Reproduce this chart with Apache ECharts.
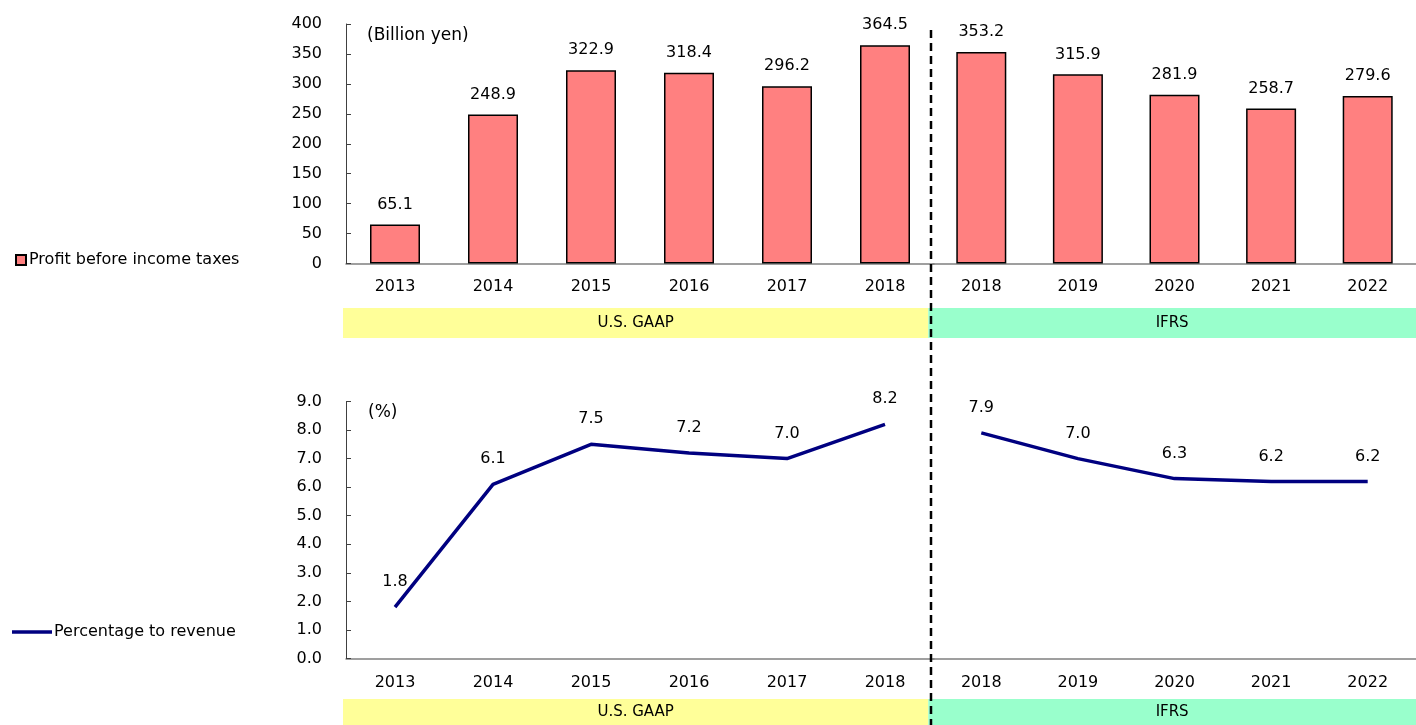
<!DOCTYPE html>
<html>
<head>
<meta charset="utf-8">
<style>
  html, body { margin: 0; padding: 0; background: #fff; }
  #chart { width: 1416px; height: 725px; }
</style>
<script src="https://cdn.jsdelivr.net/npm/echarts@6/dist/echarts.min.js"></script>
</head>
<body>
<div id="chart"></div>
<script>
const gaapYears = ["2013", "2014", "2015", "2016", "2017", "2018"];
const ifrsYears = ["2018", "2019", "2020", "2021", "2022"];
const profitGaap = [65.1, 248.9, 322.9, 318.4, 296.2, 364.5];
const profitIfrs = [353.2, 315.9, 281.9, 258.7, 279.6];
const ratioGaap = [1.8, 6.1, 7.5, 7.2, 7.0, 8.2];
const ratioIfrs = [7.9, 7.0, 6.3, 6.2, 6.2];
// standard bands: [label, first slot, last slot] on an 11-slot scale
const bands = [["U.S. GAAP", 0, 6, "#FFFF99"], ["IFRS", 6, 11, "#99FFCC"]];

const FONT = "DejaVu Sans";
const profitName = "Profit before income taxes";
const ratioName = "Percentage to revenue";

const chart = echarts.init(document.getElementById("chart"));

const catAxis = (grid, data) => ({
  type: "category", gridIndex: grid, data: data,
  axisLine: { lineStyle: { color: "#808080", width: 1.5 } },
  axisTick: { inside: true, length: 6, lineStyle: { color: "#808080", width: 1.5 } },
  axisLabel: { fontSize: 16, fontFamily: FONT, color: "#000", margin: grid < 2 ? 15 : 16 }
});
const valAxis = (grid, max, interval, visible, digits) => ({
  type: "value", gridIndex: grid, min: 0, max: max, interval: interval,
  show: visible,
  splitLine: { show: false },
  axisLine: { show: true, lineStyle: { color: "#404040", width: 1 } },
  axisTick: { show: true, inside: true, length: 5, lineStyle: { color: "#404040" } },
  axisLabel: { fontSize: 16, fontFamily: FONT, color: "#000", margin: 24,
    formatter: v => v.toFixed(digits) }
});
const bandAxisX = grid => ({ type: "value", gridIndex: grid, min: 0, max: 11, show: false });
const bandAxisY = grid => ({ type: "value", gridIndex: grid, min: 0, max: 1, show: false });

const barSeries = (x, data) => ({
  name: profitName, type: "bar", xAxisIndex: x, yAxisIndex: x, data: data,
  barWidth: 50,
  itemStyle: { color: "#FF8080", borderColor: "#000", borderWidth: 1.5 },
  label: { show: true, position: "top", distance: 12, fontSize: 16, fontFamily: FONT,
    color: "#000", formatter: p => p.value.toFixed(1) }
});
const lineSeries = (x, data) => ({
  name: ratioName, type: "line", xAxisIndex: x, yAxisIndex: x, data: data,
  symbol: "circle", symbolSize: 0.1, showSymbol: true,
  lineStyle: { color: "#000080", width: 3.5 },
  itemStyle: { color: "#000080" },
  label: { show: true, position: "top", distance: 17, fontSize: 16, fontFamily: FONT,
    color: "#000", formatter: p => p.value.toFixed(1) }
});
const bandSeries = idx => ({
  type: "custom", xAxisIndex: idx, yAxisIndex: idx, silent: true,
  data: bands.map(b => [b[1], b[2], b[0], b[3]]),
  renderItem: (params, api) => {
    const p0 = api.coord([api.value(0), 1]);
    const p1 = api.coord([api.value(1), 0]);
    const b = bands[params.dataIndex];
    return {
      type: "group",
      children: [
        { type: "rect", shape: { x: p0[0], y: p0[1], width: p1[0] - p0[0], height: p1[1] - p0[1] },
          style: { fill: b[3] } },
        { type: "text", x: (p0[0] + Math.min(p1[0], 1416)) / 2, y: (p0[1] + p1[1]) / 2,
          style: { text: b[0], fill: "#000", font: "15px '" + FONT + "'", align: "center", verticalAlign: "middle" } }
      ]
    };
  }
});

chart.setOption({
  animation: false,
  title: [
    { text: "(Billion yen)", left: 362, top: 22, padding: 5,
      textStyle: { fontSize: 17, fontWeight: "normal", fontFamily: FONT, color: "#000" } },
    { text: "(%)", left: 363, top: 399, padding: 5,
      textStyle: { fontSize: 17, fontWeight: "normal", fontFamily: FONT, color: "#000" } }
  ],
  legend: [
    { data: [profitName], left: 15, top: 252, padding: 0, itemWidth: 10, itemHeight: 10, icon: "rect",
      textStyle: { fontSize: 16, fontFamily: FONT, color: "#000", padding: [0, 0, 0, -2] } },
    { data: [{ name: ratioName, icon: "rect" }], left: 12, top: 624, padding: 0, itemWidth: 40, itemHeight: 3.5,
      textStyle: { fontSize: 16, fontFamily: FONT, color: "#000", padding: [0, 0, 0, -3] } }
  ],
  grid: [
    { left: 346, top: 24, width: 588, height: 239.5 },
    { left: 933, top: 24, width: 490, height: 239.5 },
    { left: 346, top: 401.5, width: 588, height: 257 },
    { left: 933, top: 401.5, width: 490, height: 257 },
    { left: 343, top: 308, width: 1080, height: 30 },
    { left: 343, top: 699, width: 1080, height: 30 }
  ],
  xAxis: [
    catAxis(0, gaapYears), catAxis(1, ifrsYears), catAxis(2, gaapYears), catAxis(3, ifrsYears),
    bandAxisX(4), bandAxisX(5)
  ],
  yAxis: [
    valAxis(0, 400, 50, true, 0), valAxis(1, 400, 50, false, 0),
    valAxis(2, 9, 1, true, 1), valAxis(3, 9, 1, false, 1),
    bandAxisY(4), bandAxisY(5)
  ],
  series: [
    barSeries(0, profitGaap), barSeries(1, profitIfrs),
    lineSeries(2, ratioGaap), lineSeries(3, ratioIfrs),
    bandSeries(4), bandSeries(5)
  ],
  graphic: [
    { type: "line", z: 100, shape: { x1: 931, y1: 30, x2: 931, y2: 725 },
      style: { stroke: "#000", lineWidth: 2.5, lineDash: [8, 5] } }
  ]
});
window.addEventListener("resize", () => chart.resize());
</script>
</body>
</html>
